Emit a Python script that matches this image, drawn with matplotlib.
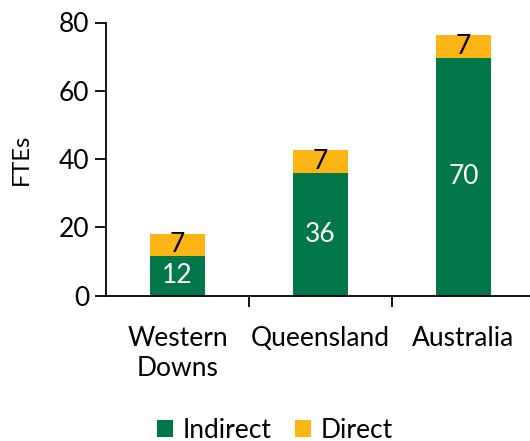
import matplotlib
matplotlib.use("Agg")
import matplotlib.pyplot as plt
import numpy as np

categories = ["Western\nDowns", "Queensland", "Australia"]
indirect = [11.5, 35.9, 69.6]
direct = [6.6, 6.7, 6.7]
indirect_labels = ["12", "36", "70"]
direct_labels = ["7", "7", "7"]

plt.rcParams['font.family'] = ['Lato', 'DejaVu Sans']
green = "#02784A"
orange = "#FDB515"

W, H = 530, 441
fig = plt.figure(figsize=(W/100, H/100), dpi=100)
left, right, top, bottom = 106, 535, 22.5, 295.5
ax = fig.add_axes([left/W, 1-bottom/H, (right-left)/W, (bottom-top)/H])

x = np.arange(len(categories))
b1 = ax.bar(x, indirect, width=0.39, color=green, label="Indirect")
b2 = ax.bar(x, direct, width=0.39, bottom=indirect, color=orange, label="Direct")

fs = 19
for i in range(len(x)):
    ax.text(x[i], indirect[i]/2, indirect_labels[i], ha='center', va='center', color='white', fontsize=fs)
    ax.text(x[i], indirect[i] + direct[i]/2, direct_labels[i], ha='center', va='center', color='black', fontsize=fs)

ax.set_xlim(-0.5, 2.5)
ax.set_ylim(0, 80)
ax.set_yticks([0, 20, 40, 60, 80])
ax.tick_params(axis='y', labelsize=fs, length=8, width=1.3, direction='out', pad=4)
ax.set_xticks(x)
ax.set_xticklabels(categories, fontsize=fs, linespacing=1.25)
ax.tick_params(axis='x', length=0, pad=22)
ax.set_xticks([0.5, 1.5], minor=True)
ax.tick_params(axis='x', which='minor', length=8, width=1.3)
for s in ['top', 'right']:
    ax.spines[s].set_visible(False)
for s in ['left', 'bottom']:
    ax.spines[s].set_linewidth(1.3)
ax.spines['left'].set_bounds(0, 80)
ax.set_ylabel("FTEs", fontsize=fs-2, labelpad=19)

leg = fig.legend(handles=[b1, b2], loc='center', bbox_to_anchor=(275/W, 1-430/H), ncol=2,
                 frameon=False, fontsize=fs, handlelength=0.6, handleheight=0.6,
                 handletextpad=0.35, columnspacing=0.9)

fig.savefig("out.png", dpi=100)
